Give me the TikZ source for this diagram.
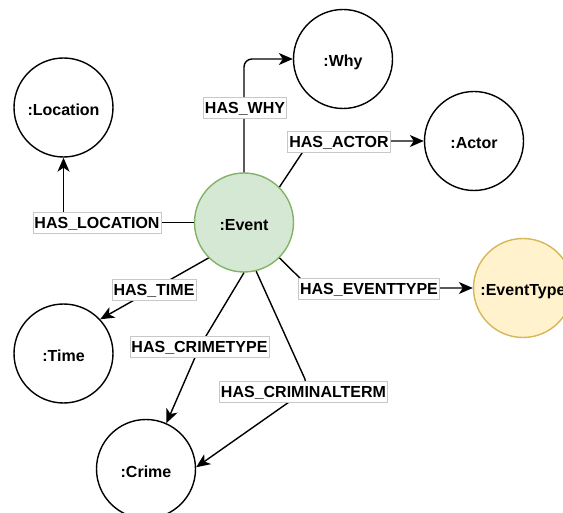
\documentclass[tikz,border=0pt]{standalone}
\usepackage{fontspec}
\setmainfont{Liberation Sans}
\usetikzlibrary{arrows.meta}
\definecolor{evfill}{HTML}{D5E8D4}
\definecolor{evline}{HTML}{82B366}
\definecolor{etfill}{HTML}{FFF2CC}
\definecolor{etline}{HTML}{D6B656}
\definecolor{tagline}{HTML}{C8C8C8}
\begin{document}
\begin{tikzpicture}[x=1pt, y=-1pt,
  font=\fontsize{16}{19}\selectfont\bfseries,
  entity/.style={circle, draw, line width=1.4pt, minimum size=99pt, inner sep=0pt,
    text height=16pt, text depth=0pt},
  rel/.style={line width=1.4pt, -{Stealth[length=14pt, width=12pt, inset=4pt]}},
  tag/.style={fill=white, draw=tagline, line width=0.8pt, inner xsep=1.5pt,
    inner ysep=2.5pt, text height=14pt, text depth=2pt}]
  \useasboundingbox (0,0) rectangle (563,513);
  \clip (0,0) rectangle (563,513);

  % entities
  \node[entity] (loc) at (63.5,107.5) {:Location};
  \node[entity] (why) at (343,59) {:Why};
  \node[entity] (act) at (474,141) {:Actor};
  \node[entity, fill=evfill, draw=evline] (ev) at (244,222.5) {:Event};
  \node[entity, fill=etfill, draw=etline] (ety) at (523,288) {:EventType};
  \node[entity] (tim) at (63.5,353.5) {:Time};
  \node[entity] (cri) at (146,469) {:Crime};

  % relationships
  \draw[rel, rounded corners=8pt] (ev.north) |- (why.west);
  \draw[rel] (ev.45) -- (310,141) -- (act.west);
  \draw[rel] (ev.west) -| (loc.south);
  \draw[rel] (ev.225) -- (tim.43);
  \draw[rel] (ev.south) -- (200,346) -- (cri.66);
  \draw[rel, rounded corners=10pt] (ev.-76) -- (309,388) -- (cri.2);
  \draw[rel] (ev.-45) -- (310,288) -- (ety.west);

  % relationship labels
  \node[tag] (twhy) at (245,107.5) {HAS\_WHY};
  \node[tag] (tact) at (339,141.5) {HAS\_ACTOR};
  \node[tag] (tloc) at (97,222.5) {HAS\_LOCATION};
  \node[tag] (ttim) at (154,289.5) {HAS\_TIME};
  \node[tag] (tcty) at (199.5,346.5) {HAS\_CRIMETYPE};
  \node[tag] (tcrt) at (303.5,392) {HAS\_CRIMINALTERM};
  \node[tag] (tety) at (369,288.5) {HAS\_EVENTTYPE};
\end{tikzpicture}
\end{document}
